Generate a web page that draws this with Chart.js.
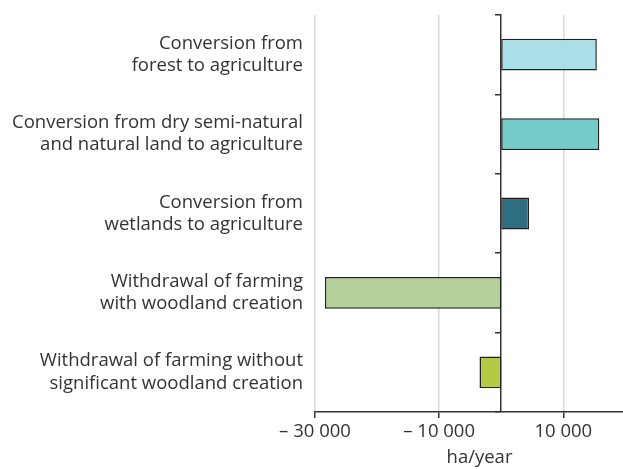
<!DOCTYPE html>
<html>
<head>
<meta charset="utf-8">
<script src="https://cdn.jsdelivr.net/npm/chart.js@4"></script>
<style>
  html, body { margin: 0; padding: 0; background: #fff; overflow: hidden; }
</style>
</head>
<body>
<canvas id="landChart" width="644" height="469"></canvas>
<script>
// land conversion flows, ha/year
const categories = [
  ['Conversion from', 'forest to agriculture'],
  ['Conversion from dry semi-natural', 'and natural land to agriculture'],
  ['Conversion from', 'wetlands to agriculture'],
  ['Withdrawal of farming', 'with woodland creation'],
  ['Withdrawal of farming without', 'significant woodland creation']
];
const values = [15400, 15800, 4500, -28400, -3500];
const barColors = ['#abdfe8', '#74cbc8', '#2f6e82', '#b5cf9b', '#b4c944'];
const xTicks = [-30000, -10000, 10000];
const xTickLabels = ['– 30 000', '– 10 000', '10 000'];

const textFont = { family: "'Open Sans', sans-serif", size: 18.5, lineHeight: 1.2 };
const textColor = '#333';

const ctx = document.getElementById('landChart').getContext('2d');
new Chart(ctx, {
    type: 'bar',
    data: {
        labels: categories,
        datasets: [{
            data: values,
            backgroundColor: barColors,
            borderColor: '#222',
            borderWidth: 1.5,
            borderSkipped: false,
            categoryPercentage: 1,
            barPercentage: 0.4
        }]
    },
    options: {
        indexAxis: 'y',
        responsive: false,
        animation: false,
        layout: { padding: { top: 15, left: 0, right: 0, bottom: 0 } },
        plugins: {
            legend: { display: false },
            tooltip: { enabled: false }
        },
        scales: {
            x: {
                type: 'linear',
                min: -30000,
                max: 23000,
                afterBuildTicks: s => { s.ticks = xTicks.map(v => ({ value: v })); },
                afterFit: s => { s.height = 57; s.paddingLeft = 0; s.paddingRight = 0; },
                ticks: {
                    autoSkip: false,
                    maxRotation: 0,
                    padding: 3,
                    font: textFont,
                    color: textColor,
                    callback: v => xTickLabels[xTicks.indexOf(v)]
                },
                grid: { color: '#d9d9d9', lineWidth: 1.5, tickColor: '#333', tickLength: 6 },
                border: { color: '#333', width: 1.5 },
                title: { display: true, text: 'ha/year', font: textFont, color: textColor, padding: 0 }
            },
            y: {
                type: 'category',
                position: 'left',
                afterFit: s => { s.width = 315; s.paddingTop = 0; s.paddingBottom = 0; },
                grid: { display: false },
                border: { display: false },
                ticks: {
                    padding: 4,
                    font: textFont,
                    color: textColor
                }
            },
            // zero line with small category ticks
            y2: {
                type: 'category',
                position: { x: 0 },
                offset: true,
                ticks: { display: false },
                grid: { display: true, drawOnChartArea: false, offset: true, tickLength: 5, color: '#333', lineWidth: 1.5 },
                border: { display: true, color: '#333', width: 1.5 }
            }
        }
    }
});
</script>
</body>
</html>
